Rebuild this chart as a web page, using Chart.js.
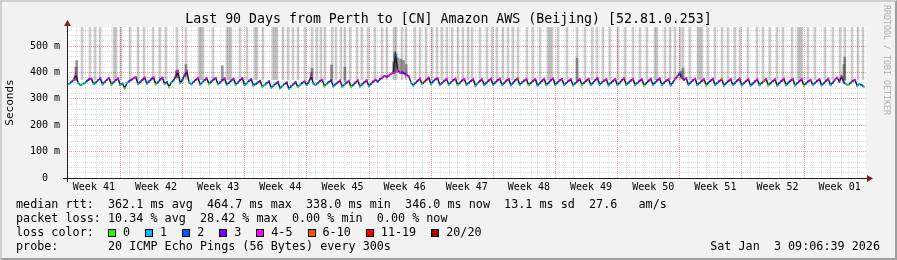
<!DOCTYPE html>
<html>
<head>
<meta charset="utf-8">
<script src="https://cdn.jsdelivr.net/npm/chart.js@4.4.1/dist/chart.umd.min.js"></script>
<style>
html, body { margin: 0; padding: 0; background: #f2f2f2; }
#wrap { position: relative; width: 897px; height: 260px; overflow: hidden; background: #f2f2f2;
        font-family: "DejaVu Sans Mono", monospace; color: #000; }
#chart { position: absolute; left: 0; top: 0; }
.txt { position: absolute; white-space: pre; }
#title { left: 0; width: 897px; text-align: center; top: 11px; font-size: 13.25px; line-height: 16px; }
.leg { left: 16px; font-size: 11.75px; line-height: 14px; }
#stamp { right: 17px; left: auto; }
.box { display: inline-block; width: 8px; height: 8px; border: 1px solid #000; box-sizing: border-box;
       margin-right: 7px; vertical-align: -1px; }
.lab { margin-right: 15px; }
#watermark { left: 892px; top: 5px; font-size: 8.3px; line-height: 10px; color: rgba(0,0,0,0.3);
             transform: rotate(90deg); transform-origin: 0 0; }
#frame { position: absolute; left: 0; top: 0; width: 897px; height: 260px; box-sizing: border-box;
         border: 2px solid; border-color: #cfcfcf #9e9e9e #9e9e9e #cfcfcf; pointer-events: none; }
</style>
</head>
<body>
<div id="wrap">
  <canvas id="chart" width="897" height="260"></canvas>
  <div id="title" class="txt">Last 90 Days from Perth to [CN] Amazon AWS (Beijing) [52.81.0.253]</div>
  <div id="watermark" class="txt">RRDTOOL / TOBI OETIKER</div>
  <div class="txt leg" style="top:197px">median rtt:  362.1 ms avg  464.7 ms max  338.0 ms min  346.0 ms now  13.1 ms sd  27.6   am/s</div>
  <div class="txt leg" style="top:211px">packet loss: 10.34 % avg  28.42 % max  0.00 % min  0.00 % now</div>
  <div class="txt leg" id="losslegend" style="top:225px">loss color:  </div>
  <div class="txt leg" style="top:239px">probe:       20 ICMP Echo Pings (56 Bytes) every 300s</div>
  <div class="txt leg" id="stamp" style="top:239px">Sat Jan  3 09:06:39 2026</div>
  <div id="frame"></div>
</div>
<script>
// one sample every 6 hours, 90 days
const stepDays = 0.25;
const firstWeekStart = 6.53; // days from the left edge to Monday 00:00 of week 42

const weekLabels = ['Week 41', 'Week 42', 'Week 43', 'Week 44', 'Week 45', 'Week 46', 'Week 47',
                    'Week 48', 'Week 49', 'Week 50', 'Week 51', 'Week 52', 'Week 01'];
const yMajor = [0, 100, 200, 300, 400, 500];
const yLabels = ['0  ', '100 m', '200 m', '300 m', '400 m', '500 m'];

const lossLabels = ['0', '1', '2', '3', '4-5', '6-10', '11-19', '20/20'];
const lossColours = ['#26ff00', '#00b8ff', '#0059ff', '#7e00ff', '#ff00ff', '#ff5500', '#ff0000', '#a10000'];

// median rtt (ms), 4 samples per day
const median = [
  358,356,364,372, 392,360,352,355, 360,368,374,376, 356,362,370,378, 355,364,372,379, 354,363,371,377, 352,358,340,360,
  366,372,378,382, 356,364,372,380, 357,366,374,381, 355,363,373,380, 356,364,345,362, 370,385,402,360, 372,390,404,362,
  355,364,372,379, 354,363,371,378, 356,365,373,379, 355,362,370,377, 353,361,369,376, 354,362,371,378, 352,360,368,374,
  350,356,362,368, 346,352,360,366, 343,350,357,364, 340,348,356,362, 338,347,355,363, 345,353,360,366, 352,365,385,358,
  352,360,368,372, 348,356,364,370, 347,355,362,369, 346,354,361,368, 345,353,362,370, 347,355,363,370, 348,357,365,372,
  365,374,380,386, 384,388,394,398, 464.7,410,398,400, 396,392,385,362, 350,360,368,376, 356,364,372,380, 355,366,374,378,
  352,360,368,375, 354,362,370,376, 352,361,369,375, 353,360,368,374, 350,359,367,374, 352,361,369,376, 353,362,370,376,
  352,360,369,375, 351,361,370,377, 353,362,369,374, 352,360,368,375, 350,359,368,376, 352,361,370,377, 353,362,370,375,
  352,360,368,374, 351,359,367,375, 353,361,369,376, 352,361,370,378, 354,362,369,374, 351,360,368,375, 352,361,370,377,
  353,361,369,375, 352,360,368,374, 350,359,368,376, 352,362,370,377, 353,361,369,374, 351,362,375,385, 396,380,372,378,
  353,362,370,376, 352,360,368,375, 351,361,369,376, 352,360,368,374, 350,359,367,375, 352,361,369,376, 351,360,368,374,
  350,358,366,373, 352,360,368,375, 351,359,367,374, 350,360,368,376, 352,361,369,375, 351,359,367,374, 350,358,366,372,
  352,360,368,374, 351,359,368,376, 352,361,372,380, 365,385,362,356, 352,360,368,372, 350,356,352,346
];

// lost pings (of 20) for each median sample
const lost = [
  1,1,2,4, 4,1,1,0, 1,2,3,4, 1,2,2,4, 1,2,3,4, 0,2,3,4, 1,1,0,1,
  2,3,4,4, 1,2,3,4, 1,2,3,4, 0,2,3,4, 1,2,0,1, 2,3,4,1, 2,3,4,1,
  1,2,3,4, 1,1,3,4, 0,2,3,4, 1,2,3,4, 1,2,2,4, 1,2,3,4, 1,1,2,3,
  1,2,2,3, 0,1,2,3, 1,1,2,3, 1,1,2,3, 1,2,2,3, 0,1,2,4, 1,2,4,1,
  1,2,3,4, 0,1,2,3, 1,2,3,4, 1,1,2,4, 0,2,3,4, 1,2,3,4, 1,2,3,4,
  2,3,4,4, 3,4,4,5, 2,4,4,3, 3,4,4,1, 1,2,3,4, 1,12,3,4, 1,2,3,4,
  1,2,3,4, 1,2,3,4, 0,2,3,4, 1,2,3,4, 1,1,3,4, 1,2,3,4, 1,2,3,4,
  1,2,3,4, 1,2,3,7, 1,2,3,4, 0,2,3,4, 1,2,3,4, 1,2,3,4, 1,2,3,4,
  1,2,3,4, 1,2,3,4, 0,2,3,4, 1,2,3,4, 1,2,3,4, 1,2,3,4, 1,2,3,4,
  1,2,3,4, 1,2,3,4, 0,2,3,4, 1,2,3,4, 1,2,3,4, 1,2,4,4, 2,4,3,4,
  1,2,3,4, 1,2,3,4, 0,2,3,4, 1,2,3,7, 1,2,3,4, 1,2,3,4, 1,2,3,4,
  1,2,3,4, 1,2,7,4, 0,2,3,4, 1,2,3,4, 1,2,3,4, 1,2,3,4, 0,2,3,4,
  1,2,3,4, 1,2,3,4, 1,2,4,4, 2,4,3,1, 0,2,3,4, 1,1,2,1
];

// samples whose slowest pings went off the top of the scale (day)
const spikeDays = [
  1.69, 2.59, 3.15, 3.72, 5.29, 5.52, 6.08, 7.10, 8.00, 8.67, 9.69, 10.47, 11.15, 12.39, 13.40,
  14.87, 15.09, 15.32, 16.44, 18.02, 18.25, 18.47, 19.49, 20.27, 21.18, 21.40, 22.08, 23.20, 23.43,
  23.65, 24.33, 24.89, 25.46, 26.02, 26.81, 27.60, 28.16, 28.61, 29.06, 29.85, 30.30, 30.86, 31.31,
  31.88, 32.67, 33.23, 33.90, 34.69, 35.48, 36.04, 36.83, 37.06, 37.73, 38.18, 39.20, 39.76, 40.44,
  41.11, 41.68, 42.24, 42.80, 43.37, 44.04, 44.60, 45.17, 45.62, 46.52, 47.31, 47.87, 48.43, 49.11,
  49.67, 50.24, 50.80, 51.81, 52.49, 53.28, 54.18, 54.40, 54.63, 55.31, 56.32, 57.45, 58.35, 59.14,
  59.70, 60.37, 61.16, 62.06, 62.85, 63.75, 64.54, 65.33, 66.23, 66.46, 67.36, 67.92, 68.49, 69.05,
  69.39, 70.17, 71.07, 71.30, 71.52, 72.20, 72.99, 73.78, 74.45, 75.24, 75.80, 76.70, 77.72, 78.40,
  79.18, 79.97, 80.65, 81.66, 82.34, 82.56, 82.79, 83.46, 84.25, 85.38, 86.28, 87.07, 87.63, 88.42,
  89.10, 89.66
];
const spikeRange = [372, 1000]; // ms

// denser smoke that stays on the scale
const smokeDays = [1.0, 1.1, 12.3, 12.4, 13.4, 17.5, 27.5, 27.6, 29.8, 31.3, 36.8, 36.9, 37.06, 37.3,
                   37.6, 37.9, 38.2, 57.45, 69.2, 69.4, 87.5, 87.6];
const smokeLow  = [370, 370, 380, 380, 385, 372, 375, 375, 366, 366, 395, 398, 400, 400, 398, 396, 385,
                   372, 380, 378, 370, 370];
const smokeHigh = [420, 445, 405, 410, 430, 425, 400, 415, 428, 420, 440, 477, 470, 455, 450, 445, 430,
                   454, 405, 416, 430, 458];

function lossColour(n) {
  if (n <= 3) return lossColours[n];
  if (n <= 5) return lossColours[4];
  if (n <= 10) return lossColours[5];
  if (n < 20) return lossColours[6];
  return lossColours[7];
}

// loss colour legend
const lossLegend = document.getElementById('losslegend');
lossLabels.forEach((lab, i) => {
  const b = document.createElement('span');
  b.className = 'box';
  b.style.background = lossColours[i];
  lossLegend.appendChild(b);
  const t = document.createElement('span');
  t.className = 'lab';
  t.textContent = lab;
  lossLegend.appendChild(t);
});

const gridGrey = 'rgba(150,150,150,0.3)';
const gridRed = 'rgba(225,80,80,0.55)';
const axisColour = '#1f1f1f';
const arrowColour = '#801f1f';

const rrdFrame = {
  id: 'rrdFrame',
  beforeDraw(chart) {
    const { ctx, chartArea: a } = chart;
    ctx.save();
    ctx.fillStyle = '#ffffff';
    ctx.fillRect(a.left, a.top, a.right - a.left, a.bottom - a.top);
    ctx.restore();
  },
  afterDraw(chart) {
    const { ctx, chartArea: a } = chart;
    ctx.save();
    ctx.strokeStyle = axisColour;
    ctx.lineWidth = 1;
    ctx.beginPath();
    ctx.moveTo(a.left - 4, a.bottom + 0.5);
    ctx.lineTo(a.right + 1, a.bottom + 0.5);
    ctx.moveTo(a.left + 0.5, a.bottom + 4);
    ctx.lineTo(a.left + 0.5, a.top - 1);
    ctx.stroke();
    ctx.fillStyle = arrowColour;
    ctx.beginPath();
    ctx.moveTo(a.right + 1, a.bottom - 3);
    ctx.lineTo(a.right + 7, a.bottom + 0.5);
    ctx.lineTo(a.right + 1, a.bottom + 4);
    ctx.closePath();
    ctx.fill();
    ctx.beginPath();
    ctx.moveTo(a.left - 3, a.top - 1);
    ctx.lineTo(a.left + 0.5, a.top - 7);
    ctx.lineTo(a.left + 4, a.top - 1);
    ctx.closePath();
    ctx.fill();
    ctx.restore();
  }
};

const font10 = { family: 'DejaVu Sans Mono', size: 10 };

new Chart(document.getElementById('chart'), {
  type: 'line',
  data: {
    datasets: [
      {
        type: 'line',
        data: median.map((v, i) => ({ x: i * stepDays, y: v })),
        borderColor: axisColour,
        borderWidth: 1.5,
        tension: 0,
        pointStyle: 'rect',
        pointRadius: 1.4,
        pointBorderWidth: 0,
        pointBackgroundColor: lost.map(lossColour),
        order: 1
      },
      {
        type: 'bar',
        data: smokeDays.map((d, i) => ({ x: d, y: [smokeLow[i], smokeHigh[i]] })),
        backgroundColor: 'rgba(70,70,70,0.55)',
        barThickness: 2,
        stack: 'smoke',
        clip: 0,
        order: 3
      },
      {
        type: 'bar',
        data: spikeDays.map(d => ({ x: d, y: spikeRange })),
        backgroundColor: 'rgba(0,0,0,0.2)',
        barThickness: 2,
        stack: 'smoke',
        clip: 0,
        order: 4
      }
    ]
  },
  options: {
    responsive: false,
    animation: false,
    events: [],
    layout: { padding: { top: 27, right: 31, bottom: 0, left: 0 } },
    plugins: { legend: { display: false }, tooltip: { enabled: false } },
    scales: {
      x: {
        type: 'linear',
        min: 0,
        max: 90,
        offset: false,
        afterFit(scale) { scale.height = 82; },
        afterBuildTicks(scale) {
          const t = [];
          for (let d = firstWeekStart % 1; d < 90; d += 1) {
            t.push({ value: d, kind: Math.round(d - firstWeekStart) % 7 === 0 ? 'week' : 'day' });
          }
          weekLabels.forEach((lab, j) => t.push({ value: firstWeekStart - 3.5 + 7 * j, kind: 'label', text: lab }));
          t.sort((a, b) => a.value - b.value);
          scale.ticks = t;
        },
        grid: {
          drawTicks: false,
          color: ctx => ctx.tick && ctx.tick.kind === 'week' ? gridRed
                       : ctx.tick && ctx.tick.kind === 'day' ? gridGrey : 'rgba(0,0,0,0)'
        },
        border: { display: false, dash: [1, 1] },
        ticks: {
          autoSkip: false,
          maxRotation: 0,
          padding: 3,
          color: '#000',
          font: font10,
          callback: (v, i, ticks) => ticks[i].kind === 'label' ? ticks[i].text : ''
        }
      },
      y: {
        type: 'linear',
        min: 0,
        max: 572,
        stacked: false,
        afterFit(scale) { scale.width = 67; },
        afterBuildTicks(scale) {
          const t = [];
          for (let v = 0; v <= 560; v += 20) t.push({ value: v });
          scale.ticks = t;
        },
        grid: {
          drawTicks: false,
          color: ctx => ctx.tick && ctx.tick.value % 100 === 0 ? gridRed : gridGrey
        },
        border: { display: false, dash: [1, 1] },
        title: { display: true, text: 'Seconds', color: '#000', font: { family: 'DejaVu Sans Mono', size: 11 }, padding: { top: 4, bottom: 0 } },
        ticks: {
          autoSkip: false,
          padding: 7,
          color: '#000',
          font: font10,
          callback: v => { const k = yMajor.indexOf(v); return k >= 0 ? yLabels[k] : ''; }
        }
      }
    }
  },
  plugins: [rrdFrame]
});
</script>
</body>
</html>
